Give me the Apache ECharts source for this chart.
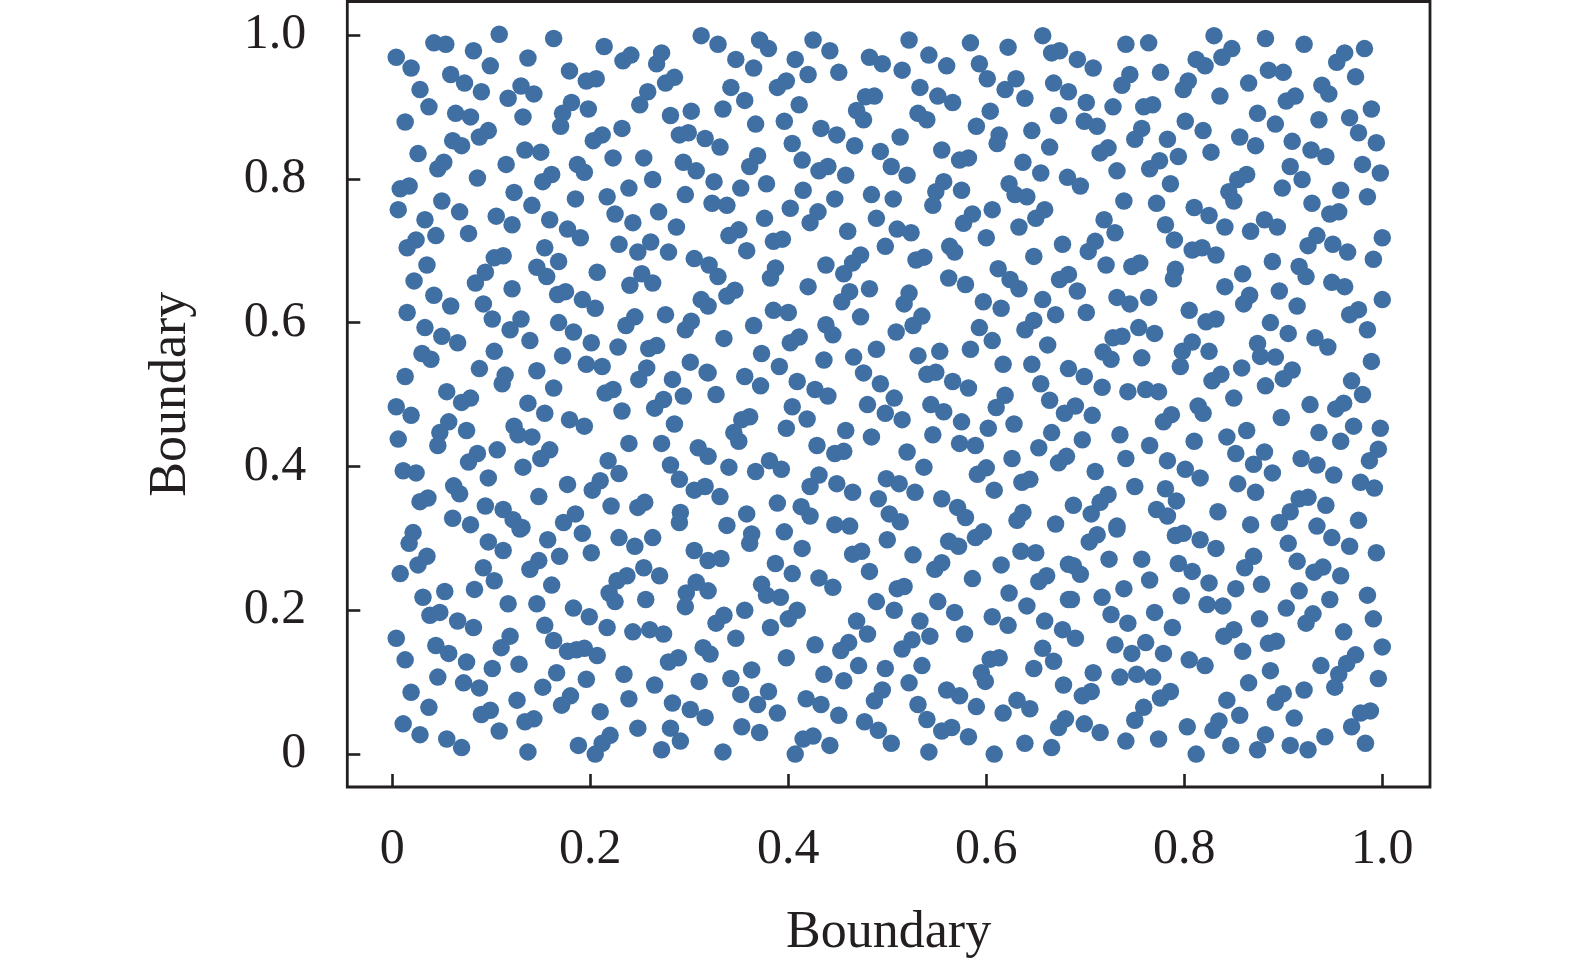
<!DOCTYPE html>
<html><head><meta charset="utf-8">
<style>html,body{margin:0;padding:0;background:#fff}#c{width:1575px;height:964px}</style>
<script src="https://cdn.jsdelivr.net/npm/echarts@6/dist/echarts.min.js"></script>
</head><body><div id="c"></div>
<script>
const tickValues=[0,0.2,0.4,0.6,0.8,1.0];
const axisName='Boundary';
const pointsTopLeft=[[.004,.969],[.019,.954],[.042,.989],[.054,.987],[.082,.978],[.108,1.001],[.099,.957],[.137,.968],[.163,.995],[.214,.984],[.233,.964],[.241,.972],[.272,.975],[.267,.960],[.312,.999],[.059,.945],[.073,.933],[.090,.921],[.028,.924],[.037,.900],[.013,.879],[.064,.891],[.079,.886],[.130,.929],[.143,.918],[.117,.912],[.132,.886],[.179,.950],[.196,.936],[.206,.939],[.181,.906],[.172,.891],[.170,.873],[.198,.897],[.258,.921],[.250,.903],[.276,.933],[.285,.941],[.281,.888],[.302,.894],[.290,.861],[.299,.864],[.316,.856],[.232,.870],[.212,.861],[.203,.853],[.097,.867],[.088,.858],[.061,.853],[.070,.846],[.026,.835],[.052,.823],[.046,.814],[.115,.820],[.086,.801],[.134,.840],[.150,.837],[.223,.829],[.254,.829],[.187,.820],[.194,.809],[.161,.806],[.152,.796],[.294,.823],[.307,.811],[.263,.799],[.239,.787],[.217,.775],[.296,.778],[.185,.772],[.123,.781],[.141,.763],[.008,.786],[.017,.790],[.050,.769],[.006,.757],[.068,.754],[.033,.743],[.105,.748],[.121,.736],[.159,.743],[.177,.730],[.190,.718],[.225,.751],[.243,.739],[.269,.754],[.287,.733],[.044,.721],[.024,.715],[.015,.704],[.077,.724],[.229,.709],[.261,.712],[.248,.698],[.279,.698],[.305,.689],[.154,.704],[.168,.685],[.112,.693],[.103,.690],[.035,.680]];
const pointsTopMiddle=[[.329,.987],[.371,.993],[.380,.981],[.347,.966],[.365,.954],[.407,.966],[.425,.993],[.442,.978],[.420,.945],[.451,.948],[.389,.927],[.398,.936],[.342,.927],[.356,.909],[.334,.897],[.411,.903],[.396,.880],[.367,.876],[.482,.969],[.495,.960],[.522,.993],[.515,.951],[.542,.972],[.560,.957],[.584,.989],[.593,.960],[.622,.983],[.657,.999],[.666,.975],[.674,.978],[.601,.939],[.619,.924],[.630,.939],[.639,.912],[.668,.933],[.683,.921],[.533,.927],[.551,.915],[.566,.906],[.478,.914],[.487,.915],[.469,.895],[.476,.882],[.531,.891],[.540,.882],[.604,.894],[.590,.873],[.673,.888],[.646,.867],[.613,.861],[.611,.849],[.664,.844],[.433,.870],[.449,.861],[.467,.846],[.513,.858],[.404,.849],[.493,.838],[.555,.840],[.573,.826],[.582,.829],[.331,.844],[.369,.832],[.361,.817],[.414,.826],[.431,.811],[.440,.817],[.458,.805],[.504,.817],[.520,.805],[.637,.823],[.655,.808],[.682,.802],[.325,.796],[.352,.787],[.378,.793],[.415,.784],[.447,.772],[.484,.778],[.506,.772],[.557,.796],[.549,.782],[.546,.763],[.575,.784],[.623,.793],[.629,.778],[.641,.775],[.323,.766],[.338,.763],[.402,.759],[.376,.745],[.430,.754],[.422,.739],[.489,.745],[.510,.730],[.524,.725],[.606,.757],[.586,.751],[.577,.738],[.659,.757],[.650,.745],[.633,.733],[.350,.729],[.340,.721],[.460,.727],[.385,.713],[.394,.716],[.358,.700],[.498,.706],[.563,.706],[.568,.698],[.600,.718],[.677,.709],[.648,.692],[.387,.676],[.320,.680],[.438,.680],[.473,.694],[.465,.683],[.529,.687],[.537,.691]];
const pointsTopRight=[[.692,.966],[.708,.954],[.741,.987],[.764,.989],[.830,.999],[.882,.995],[.921,.987],[.982,.981],[.962,.975],[.954,.962],[.848,.981],[.838,.969],[.812,.966],[.821,.957],[.745,.945],[.737,.930],[.776,.948],[.804,.936],[.799,.924],[.836,.915],[.865,.933],[.885,.951],[.900,.948],[.973,.942],[.939,.930],[.946,.918],[.912,.915],[.903,.908],[.701,.906],[.728,.900],[.759,.900],[.768,.903],[.874,.891],[.892,.876],[.936,.882],[.967,.885],[.989,.897],[.976,.864],[.994,.850],[.699,.880],[.712,.873],[.757,.870],[.750,.855],[.801,.880],[.819,.867],[.856,.858],[.872,.846],[.909,.852],[.928,.840],[.943,.831],[.783,.855],[.794,.831],[.827,.837],[.723,.843],[.715,.836],[.775,.825],[.765,.814],[.732,.811],[.980,.820],[.998,.808],[.907,.817],[.919,.799],[.899,.787],[.958,.784],[.985,.775],[.695,.790],[.786,.793],[.863,.806],[.854,.799],[.845,.782],[.850,.769],[.739,.769],[.772,.766],[.929,.766],[.956,.754],[.947,.751],[.810,.760],[.825,.749],[.841,.733],[.719,.743],[.730,.725],[.781,.736],[.790,.715],[.881,.743],[.894,.733],[.867,.727],[.934,.721],[.925,.707],[.950,.709],[.965,.698],[1.000,.718],[.991,.688],[.710,.713],[.703,.699],[.808,.701],[.818,.704],[.832,.694],[.889,.685],[.916,.678],[.721,.680],[.755,.683],[.747,.678]];
const pointsCentreLeft=[[.022,.658],[.042,.638],[.059,.623],[.015,.614],[.033,.593],[.050,.581],[.066,.572],[.094,.670],[.084,.655],[.121,.647],[.092,.626],[.101,.605],[.130,.605],[.119,.590],[.139,.575],[.146,.677],[.156,.664],[.207,.670],[.167,.639],[.175,.643],[.192,.632],[.205,.620],[.240,.652],[.252,.668],[.263,.655],[.168,.600],[.183,.587],[.201,.572],[.245,.608],[.236,.596],[.276,.611],[.312,.632],[.319,.623],[.302,.602],[.296,.590],[.228,.566],[.259,.564],[.267,.568],[.103,.560],[.030,.557],[.039,.549],[.172,.554],[.196,.542],[.212,.539],[.088,.536],[.146,.533],[.114,.527],[.111,.515],[.013,.525],[.163,.509],[.257,.537],[.249,.521],[.301,.545],[.283,.521],[.319,.530],[.055,.504],[.079,.495],[.070,.489],[.215,.502],[.223,.507],[.004,.483],[.019,.471],[.137,.488],[.154,.474],[.232,.477],[.294,.498],[.274,.493],[.265,.481],[.057,.462],[.048,.447],[.046,.429],[.075,.450],[.179,.465],[.194,.456],[.285,.459],[.123,.456],[.127,.444],[.141,.441],[.006,.438],[.239,.432],[.272,.432],[.309,.426],[.319,.414],[.106,.423],[.086,.418],[.077,.406],[.159,.423],[.150,.411],[.218,.408],[.229,.390],[.281,.402],[.011,.394],[.024,.391],[.132,.399],[.097,.384],[.177,.375],[.210,.380],[.202,.367],[.290,.382],[.305,.367],[.316,.372],[.062,.373],[.068,.362],[.036,.356],[.028,.351],[.148,.358],[.094,.345],[.112,.340],[.122,.326],[.061,.328],[.079,.319],[.221,.345],[.255,.350],[.248,.343],[.185,.334],[.173,.322],[.291,.336],[.290,.322]];
const pointsCentreMiddle=[[.329,.664],[.382,.662],[.420,.650],[.456,.668],[.482,.647],[.462,.643],[.454,.629],[.346,.645],[.338,.637],[.562,.662],[.579,.653],[.612,.675],[.624,.660],[.633,.647],[.522,.641],[.517,.626],[.657,.632],[.670,.611],[.674,.660],[.683,.667],[.597,.629],[.615,.620],[.385,.617],[.400,.614],[.473,.608],[.535,.609],[.526,.596],[.365,.596],[.438,.597],[.445,.583],[.509,.587],[.593,.593],[.606,.575],[.648,.603],[.639,.590],[.335,.578],[.411,.580],[.402,.572],[.489,.563],[.466,.552],[.553,.560],[.531,.554],[.584,.563],[.662,.569],[.373,.557],[.391,.539],[.436,.548],[.476,.530],[.540,.528],[.549,.531],[.617,.542],[.646,.542],[.683,.536],[.318,.531],[.356,.525],[.372,.512],[.409,.518],[.493,.515],[.566,.518],[.582,.509],[.655,.515],[.427,.507],[.440,.498],[.507,.495],[.619,.499],[.610,.482],[.327,.500],[.404,.483],[.480,.486],[.664,.492],[.544,.486],[.557,.476],[.498,.474],[.679,.474],[.690,.484],[.361,.469],[.353,.465],[.419,.466],[.515,.465],[.575,.462],[.628,.459],[.602,.453],[.398,.453],[.345,.447],[.350,.435],[.458,.450],[.666,.447],[.484,.441],[.546,.444],[.429,.429],[.447,.418],[.456,.421],[.573,.432],[.589,.429],[.653,.426],[.520,.420],[.340,.399],[.626,.411],[.681,.414],[.673,.405],[.381,.408],[.367,.393],[.393,.396],[.537,.399],[.431,.388],[.422,.372],[.600,.398],[.591,.389],[.499,.383],[.512,.376],[.449,.376],[.465,.364],[.528,.364],[.636,.378],[.644,.382],[.608,.367],[.331,.358],[.389,.349],[.491,.355],[.555,.355],[.413,.344],[.422,.331],[.571,.343],[.579,.329],[.502,.334],[.513,.323],[.358,.334],[.637,.336],[.631,.325],[.338,.318],[.688,.346],[.670,.320],[.447,.319],[.462,.317]];
const pointsCentreRight=[[.791,.674],[.789,.661],[.692,.644],[.859,.668],[.841,.650],[.923,.664],[.949,.656],[.962,.650],[.732,.635],[.745,.626],[.764,.635],[.866,.638],[.860,.626],[.896,.644],[.914,.623],[1.000,.632],[.701,.614],[.805,.617],[.822,.601],[.832,.605],[.976,.618],[.967,.611],[.887,.600],[.905,.585],[.985,.590],[.754,.593],[.770,.585],[.728,.579],[.737,.581],[.932,.579],[.945,.566],[.808,.573],[.798,.560],[.796,.539],[.825,.560],[.874,.571],[.877,.553],[.892,.552],[.718,.559],[.726,.549],[.757,.551],[.989,.546],[.858,.537],[.699,.525],[.717,.510],[.743,.504],[.761,.507],[.774,.504],[.837,.528],[.828,.519],[.909,.534],[.900,.522],[.882,.512],[.969,.519],[.980,.500],[.850,.495],[.814,.484],[.819,.474],[.707,.471],[.927,.486],[.961,.488],[.953,.480],[.787,.472],[.779,.462],[.898,.468],[.971,.456],[.998,.453],[.863,.450],[.697,.437],[.735,.444],[.843,.441],[.936,.447],[.810,.435],[.958,.435],[.765,.429],[.996,.424],[.987,.408],[.852,.418],[.881,.420],[.918,.411],[.870,.403],[.934,.402],[.741,.411],[.783,.408],[.801,.396],[.889,.391],[.951,.388],[.710,.393],[.816,.384],[.854,.376],[.978,.378],[.992,.370],[.750,.372],[.781,.369],[.792,.352],[.872,.364],[.925,.357],[.916,.355],[.723,.361],[.715,.350],[.706,.334],[.772,.340],[.783,.331],[.943,.346],[.907,.337],[.896,.322],[.834,.337],[.867,.319],[.934,.317],[.976,.325],[.732,.317]];
const pointsBottomLeft=[[.131,.315],[.129,.313],[.021,.308],[.017,.293],[.192,.307],[.229,.301],[.245,.289],[.263,.301],[.097,.295],[.112,.283],[.157,.298],[.201,.280],[.169,.275],[.305,.283],[.319,.269],[.148,.269],[.139,.257],[.035,.275],[.026,.263],[.008,.251],[.092,.259],[.103,.241],[.254,.259],[.270,.248],[.237,.248],[.227,.241],[.219,.224],[.225,.212],[.307,.239],[.297,.224],[.296,.205],[.161,.235],[.319,.227],[.053,.226],[.083,.229],[.031,.218],[.256,.215],[.117,.209],[.146,.209],[.183,.203],[.199,.191],[.217,.176],[.038,.193],[.048,.197],[.066,.185],[.082,.176],[.154,.179],[.163,.158],[.243,.170],[.260,.173],[.274,.167],[.044,.151],[.057,.140],[.075,.128],[.004,.161],[.013,.131],[.119,.164],[.110,.148],[.186,.145],[.177,.143],[.194,.147],[.207,.137],[.314,.148],[.321,.139],[.289,.134],[.279,.128],[.128,.125],[.101,.119],[.166,.113],[.234,.111],[.046,.107],[.196,.104],[.310,.101],[.072,.099],[.088,.092],[.265,.096],[.152,.093],[.019,.086],[.239,.077],[.180,.081],[.171,.068],[.126,.075],[.037,.065],[.283,.071],[.301,.062],[.316,.051],[.099,.061],[.090,.055],[.210,.059],[.143,.049],[.134,.045],[.011,.042],[.248,.036],[.108,.032],[.281,.036],[.028,.027],[.055,.021],[.220,.026],[.212,.015],[.205,.000],[.291,.018],[.188,.012],[.070,.009],[.272,.006],[.137,.003]];
const pointsBottomMiddle=[[.396,.309],[.363,.306],[.361,.293],[.414,.286],[.500,.298],[.332,.272],[.465,.278],[.474,.282],[.526,.277],[.562,.296],[.572,.289],[.589,.301],[.597,.309],[.635,.282],[.650,.280],[.387,.265],[.404,.251],[.615,.263],[.555,.266],[.548,.257],[.482,.254],[.586,.244],[.683,.264],[.431,.245],[.445,.232],[.373,.236],[.378,.221],[.392,.218],[.661,.248],[.653,.240],[.623,.224],[.510,.230],[.517,.233],[.551,.212],[.489,.212],[.507,.200],[.568,.197],[.641,.206],[.683,.215],[.356,.200],[.409,.200],[.400,.188],[.335,.193],[.327,.182],[.606,.191],[.622,.179],[.659,.185],[.677,.173],[.469,.185],[.533,.185],[.382,.176],[.480,.167],[.543,.164],[.578,.167],[.347,.161],[.525,.159],[.515,.146],[.427,.152],[.461,.155],[.453,.144],[.657,.147],[.398,.134],[.604,.132],[.613,.134],[.668,.129],[.471,.123],[.498,.119],[.535,.123],[.595,.113],[.648,.119],[.363,.117],[.436,.111],[.599,.101],[.342,.105],[.456,.102],[.522,.099],[.678,.096],[.560,.089],[.495,.089],[.380,.087],[.352,.083],[.573,.081],[.487,.074],[.418,.077],[.531,.069],[.631,.075],[.369,.069],[.433,.069],[.590,.066],[.644,.063],[.389,.057],[.451,.054],[.617,.057],[.540,.048],[.477,.045],[.680,.049],[.673,.037],[.491,.033],[.353,.038],[.555,.032],[.565,.037],[.371,.030],[.582,.024],[.415,.021],[.425,.025],[.442,.012],[.504,.015],[.639,.015],[.666,.009],[.334,.003],[.407,.000],[.542,.003],[.608,.000]];
const pointsBottomRight=[[.732,.313],[.712,.305],[.704,.295],[.791,.304],[.799,.307],[.816,.298],[.832,.286],[.905,.293],[.949,.301],[.967,.289],[.994,.280],[.724,.271],[.757,.271],[.688,.262],[.695,.250],[.794,.265],[.808,.254],[.870,.275],[.861,.259],[.914,.268],[.940,.260],[.931,.253],[.958,.248],[.765,.242],[.825,.238],[.878,.236],[.739,.230],[.852,.230],[.916,.227],[.686,.215],[.717,.218],[.797,.220],[.947,.215],[.985,.221],[.823,.208],[.839,.206],[.903,.203],[.770,.197],[.726,.194],[.743,.182],[.876,.188],[.930,.195],[.923,.182],[.991,.188],[.788,.176],[.690,.161],[.850,.173],[.840,.164],[.961,.170],[.893,.157],[.885,.154],[.730,.152],[.761,.155],[.747,.140],[.779,.140],[.859,.143],[1.000,.149],[.805,.131],[.821,.123],[.973,.138],[.964,.126],[.938,.123],[.956,.111],[.887,.116],[.708,.113],[.735,.107],[.752,.111],[.768,.107],[.996,.105],[.865,.099],[.952,.093],[.706,.087],[.697,.081],[.786,.087],[.776,.078],[.921,.089],[.900,.084],[.892,.072],[.843,.075],[.759,.065],[.856,.054],[.750,.047],[.911,.050],[.988,.060],[.978,.057],[.969,.038],[.835,.046],[.829,.033],[.699,.042],[.803,.038],[.715,.030],[.882,.027],[.774,.021],[.942,.024],[.741,.018],[.847,.012],[.907,.012],[.983,.015],[.874,.006],[.925,.006],[.812,.000]];
const allPoints=[].concat(pointsTopLeft,pointsTopMiddle,pointsTopRight,pointsCentreLeft,pointsCentreMiddle,pointsCentreRight,pointsBottomLeft,pointsBottomMiddle,pointsBottomRight);
const ink='#231f20', font='"Liberation Serif","Times New Roman",serif';
const fmt=v=>v===0?'0':v.toFixed(1);
const mkAxis=(min,max,nameGap,labelMargin)=>({
  type:'value',min,max,name:axisName,nameLocation:'middle',nameGap,
  nameTextStyle:{fontFamily:font,fontSize:52,color:ink},
  splitLine:{show:false},axisLine:{show:false,onZero:false},
  axisTick:{show:true,inside:true,length:13,lineStyle:{color:ink,width:2.6},customValues:tickValues},
  axisLabel:{show:true,margin:labelMargin,fontFamily:font,fontSize:50,color:ink,formatter:fmt,customValues:tickValues}
});
const chart=echarts.init(document.getElementById('c'),null,{renderer:'canvas'});
chart.setOption({
  animation:false,backgroundColor:'#fff',
  grid:{left:347.3,top:1.5,width:1082.7,height:786.5,show:true,borderColor:ink,borderWidth:2.8,backgroundColor:'transparent',containLabel:false},
  xAxis:mkAxis(-0.04545,1.0482,120,38),
  yAxis:mkAxis(-0.0458,1.0465,150,41),
  series:[{type:'scatter',data:allPoints,symbol:'circle',symbolSize:17.5,itemStyle:{color:'#3f6fa3',opacity:1},clip:false,silent:true}]
});
</script></body></html>
